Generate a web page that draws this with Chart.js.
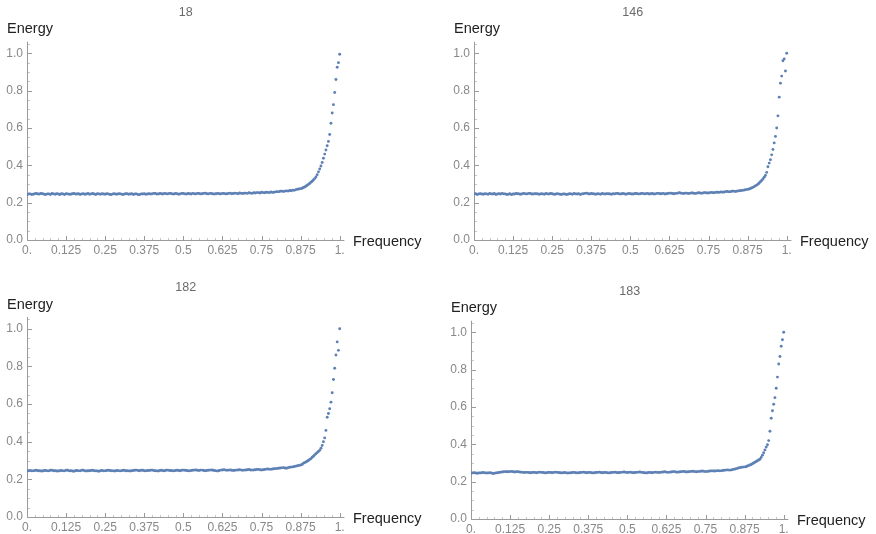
<!DOCTYPE html>
<html>
<head>
<meta charset="utf-8">
<script src="https://cdn.jsdelivr.net/npm/chart.js@4/dist/chart.umd.min.js"></script>
<style>
  body { margin: 0; width: 876px; height: 534px; overflow: hidden; background: #fff; position: relative; }
  .panel { position: absolute; }
  canvas { display: block; }
</style>
</head>
<body>
<div class="panel" id="w18"><canvas id="c18" width="445" height="275"></canvas></div>
<div class="panel" id="w146"><canvas id="c146" width="445" height="275"></canvas></div>
<div class="panel" id="w182"><canvas id="c182" width="445" height="275"></canvas></div>
<div class="panel" id="w183"><canvas id="c183" width="445" height="275"></canvas></div>
<script>
// frequency of each point (same for all four plots)
const freq = [
  0.000,0.005,0.010,0.015,0.020,0.025,0.030,0.035,0.040,0.045,0.050,0.055,0.060,0.065,0.070,0.075,0.080,0.085,0.090,0.095,
  0.100,0.105,0.110,0.115,0.120,0.125,0.130,0.135,0.140,0.145,0.150,0.155,0.160,0.165,0.170,0.175,0.180,0.185,0.190,0.195,
  0.200,0.205,0.210,0.215,0.220,0.225,0.230,0.235,0.240,0.245,0.250,0.255,0.260,0.265,0.270,0.275,0.280,0.285,0.290,0.295,
  0.300,0.305,0.310,0.315,0.320,0.325,0.330,0.335,0.340,0.345,0.350,0.355,0.360,0.365,0.370,0.375,0.380,0.385,0.390,0.395,
  0.400,0.405,0.410,0.415,0.420,0.425,0.430,0.435,0.440,0.445,0.450,0.455,0.460,0.465,0.470,0.475,0.480,0.485,0.490,0.495,
  0.500,0.505,0.510,0.515,0.520,0.525,0.530,0.535,0.540,0.545,0.550,0.555,0.560,0.565,0.570,0.575,0.580,0.585,0.590,0.595,
  0.600,0.605,0.610,0.615,0.620,0.625,0.630,0.635,0.640,0.645,0.650,0.655,0.660,0.665,0.670,0.675,0.680,0.685,0.690,0.695,
  0.700,0.705,0.710,0.715,0.720,0.725,0.730,0.735,0.740,0.745,0.750,0.755,0.760,0.765,0.770,0.775,0.780,0.785,0.790,0.795,
  0.800,0.805,0.810,0.815,0.820,0.825,0.830,0.835,0.840,0.845,0.850,0.855,0.860,0.865,0.870,0.875,0.880,
  0.884,0.888,0.892,0.896,0.900,0.904,0.908,0.912,0.916,0.920,
  0.924,0.928,0.932,0.936,0.940,0.944,0.948,0.952,0.956,0.960,
  0.964,0.968,0.972,0.976,0.980,0.984,0.988,0.992,0.996,1.000
];

const energy18 = [
  0.243,0.246,0.247,0.244,0.245,0.248,0.249,0.246,0.246,0.249,0.248,0.245,0.244,0.247,0.247,0.244,0.249,0.247,0.245,0.248,
  0.246,0.244,0.248,0.246,0.244,0.248,0.247,0.245,0.245,0.248,0.249,0.246,0.246,0.248,0.244,0.247,0.248,0.245,0.246,0.249,
  0.245,0.247,0.249,0.246,0.244,0.248,0.247,0.245,0.248,0.246,0.245,0.248,0.247,0.244,0.244,0.247,0.248,0.245,0.246,0.248,
  0.247,0.244,0.245,0.248,0.248,0.245,0.246,0.248,0.244,0.246,0.247,0.244,0.243,0.247,0.246,0.248,0.245,0.246,0.248,0.246,
  0.247,0.250,0.249,0.246,0.246,0.249,0.248,0.246,0.250,0.248,0.247,0.250,0.249,0.247,0.246,0.249,0.248,0.245,0.247,0.250,
  0.249,0.247,0.246,0.249,0.248,0.246,0.250,0.248,0.247,0.250,0.249,0.247,0.248,0.250,0.251,0.248,0.247,0.250,0.249,0.247,
  0.246,0.248,0.250,0.248,0.247,0.250,0.249,0.247,0.248,0.250,0.251,0.248,0.249,0.251,0.250,0.248,0.252,0.250,0.249,0.251,
  0.251,0.250,0.253,0.251,0.250,0.253,0.252,0.254,0.254,0.252,0.256,0.254,0.253,0.256,0.255,0.254,0.257,0.255,0.256,0.258,
  0.259,0.258,0.261,0.262,0.260,0.262,0.263,0.262,0.265,0.264,0.267,0.266,0.270,0.272,0.273,0.275,0.277,
  0.281,0.284,0.288,0.293,0.298,0.303,0.309,0.315,0.321,0.329,
  0.338,0.350,0.365,0.380,0.396,0.415,0.438,0.460,0.482,0.505,
  0.528,0.565,0.625,0.680,0.725,0.790,0.860,0.925,0.950,0.995
];

const energy146 = [
  0.246,0.248,0.244,0.246,0.248,0.246,0.245,0.248,0.247,0.245,0.249,0.247,0.246,0.249,0.244,0.246,0.248,0.246,0.250,0.247,
  0.247,0.244,0.245,0.248,0.243,0.246,0.246,0.249,0.248,0.246,0.245,0.248,0.250,0.247,0.247,0.250,0.249,0.246,0.246,0.248,
  0.248,0.246,0.245,0.248,0.247,0.245,0.249,0.247,0.246,0.249,0.248,0.245,0.245,0.248,0.247,0.245,0.244,0.247,0.246,0.244,
  0.245,0.248,0.247,0.245,0.249,0.247,0.246,0.248,0.244,0.247,0.248,0.250,0.251,0.248,0.246,0.249,0.248,0.246,0.245,0.248,
  0.247,0.245,0.249,0.247,0.246,0.248,0.248,0.246,0.245,0.248,0.247,0.250,0.249,0.247,0.246,0.249,0.248,0.245,0.247,0.249,
  0.248,0.246,0.246,0.249,0.249,0.247,0.247,0.249,0.250,0.247,0.248,0.250,0.246,0.248,0.249,0.246,0.247,0.250,0.250,0.248,
  0.248,0.250,0.246,0.248,0.249,0.251,0.251,0.249,0.248,0.250,0.250,0.253,0.252,0.250,0.249,0.251,0.251,0.249,0.250,0.252,
  0.252,0.249,0.250,0.252,0.253,0.251,0.251,0.253,0.254,0.252,0.252,0.254,0.255,0.253,0.254,0.256,0.256,0.255,0.258,0.256,
  0.257,0.259,0.260,0.258,0.259,0.261,0.262,0.260,0.261,0.263,0.264,0.265,0.266,0.268,0.270,0.271,0.273,
  0.276,0.279,0.282,0.286,0.290,0.294,0.299,0.305,0.312,0.319,
  0.327,0.336,0.346,0.362,0.392,0.412,0.430,0.456,0.485,0.520,
  0.555,0.600,0.665,0.765,0.840,0.878,0.960,0.970,0.905,1.000
];

const energy182 = [
  0.244,0.246,0.247,0.245,0.245,0.247,0.248,0.246,0.246,0.244,0.244,0.247,0.247,0.245,0.245,0.248,0.248,0.246,0.246,0.244,
  0.244,0.246,0.247,0.245,0.245,0.248,0.248,0.245,0.246,0.244,0.243,0.246,0.247,0.245,0.245,0.248,0.248,0.245,0.244,0.246,
  0.246,0.247,0.248,0.246,0.245,0.244,0.243,0.246,0.247,0.245,0.245,0.247,0.248,0.247,0.246,0.245,0.244,0.246,0.247,0.245,
  0.245,0.247,0.248,0.246,0.246,0.245,0.244,0.246,0.247,0.248,0.249,0.247,0.246,0.248,0.248,0.246,0.245,0.247,0.247,0.248,
  0.249,0.247,0.246,0.245,0.244,0.247,0.248,0.246,0.246,0.248,0.249,0.247,0.247,0.246,0.245,0.247,0.248,0.247,0.246,0.248,
  0.249,0.248,0.247,0.246,0.245,0.247,0.248,0.249,0.250,0.248,0.247,0.249,0.249,0.247,0.246,0.247,0.248,0.249,0.250,0.248,
  0.247,0.245,0.244,0.247,0.249,0.250,0.251,0.249,0.248,0.249,0.250,0.248,0.247,0.248,0.249,0.250,0.251,0.249,0.248,0.249,
  0.250,0.251,0.252,0.250,0.249,0.250,0.251,0.252,0.253,0.251,0.250,0.251,0.252,0.254,0.255,0.254,0.253,0.255,0.256,0.257,
  0.258,0.259,0.260,0.261,0.262,0.260,0.259,0.262,0.264,0.265,0.266,0.268,0.270,0.272,0.274,0.276,0.279,
  0.286,0.289,0.292,0.296,0.300,0.305,0.310,0.317,0.323,0.330,
  0.336,0.342,0.348,0.354,0.365,0.380,0.400,0.420,0.460,0.530,
  0.550,0.575,0.610,0.660,0.730,0.790,0.860,0.930,0.885,1.000
];

const energy183 = [
  0.246,0.247,0.248,0.246,0.245,0.246,0.247,0.248,0.249,0.247,0.246,0.247,0.248,0.246,0.244,0.245,0.247,0.248,0.249,0.251,
  0.252,0.253,0.254,0.253,0.253,0.254,0.255,0.253,0.252,0.253,0.254,0.252,0.251,0.250,0.249,0.250,0.250,0.249,0.248,0.249,
  0.250,0.249,0.248,0.250,0.251,0.250,0.249,0.248,0.247,0.249,0.250,0.249,0.248,0.250,0.251,0.250,0.249,0.248,0.247,0.248,
  0.249,0.247,0.246,0.247,0.248,0.249,0.250,0.248,0.247,0.248,0.249,0.250,0.251,0.249,0.248,0.249,0.250,0.248,0.247,0.248,
  0.249,0.250,0.251,0.249,0.248,0.249,0.250,0.248,0.247,0.248,0.249,0.250,0.251,0.249,0.248,0.249,0.250,0.251,0.252,0.250,
  0.249,0.250,0.251,0.249,0.248,0.249,0.250,0.251,0.252,0.250,0.249,0.248,0.247,0.248,0.250,0.249,0.248,0.250,0.251,0.250,
  0.249,0.250,0.251,0.252,0.253,0.251,0.250,0.251,0.252,0.253,0.254,0.252,0.251,0.252,0.253,0.254,0.255,0.253,0.252,0.253,
  0.254,0.255,0.256,0.254,0.253,0.254,0.255,0.256,0.257,0.255,0.254,0.255,0.256,0.257,0.258,0.257,0.257,0.258,0.259,0.258,
  0.258,0.260,0.261,0.262,0.263,0.262,0.262,0.264,0.266,0.268,0.270,0.273,0.275,0.277,0.278,0.279,0.280,
  0.284,0.286,0.289,0.292,0.296,0.300,0.304,0.308,0.312,0.316,
  0.320,0.330,0.342,0.355,0.370,0.385,0.398,0.420,0.470,0.540,
  0.580,0.615,0.650,0.700,0.760,0.830,0.870,0.925,0.960,1.000
];

// axis ticks
const energyTicks = [0, 0.2, 0.4, 0.6, 0.8, 1.0];
const energyTickLabels = ['0.0', '0.2', '0.4', '0.6', '0.8', '1.0'];
const energyMinor = [0.05,0.1,0.15,0.25,0.3,0.35,0.45,0.5,0.55,0.65,0.7,0.75,0.85,0.9,0.95,1.05];
const freqTicks = [0, 0.125, 0.25, 0.375, 0.5, 0.625, 0.75, 0.875, 1];
const freqTickLabels = ['0.', '0.125', '0.25', '0.375', '0.5', '0.625', '0.75', '0.875', '1.'];
const freqMinor = [0.025,0.05,0.075,0.1,0.15,0.175,0.2,0.225,0.275,0.3,0.325,0.35,
  0.4,0.425,0.45,0.475,0.525,0.55,0.575,0.6,0.65,0.675,0.7,0.725,0.775,0.8,0.825,0.85,
  0.9,0.925,0.95,0.975];

const FONT = '"Liberation Sans", Arial, sans-serif';

// mathematica style axes: lines on the left and bottom, ticks pointing inward
const mmaAxes = {
  id: 'mmaAxes',
  beforeDatasetsDraw(chart) {
    const { ctx, chartArea: a, scales: { x, y } } = chart;
    const x0 = Math.round(a.left) + 0.5;
    const y0 = Math.round(a.bottom) + 0.5;
    ctx.save();
    ctx.lineWidth = 1;
    // minor ticks
    ctx.strokeStyle = '#c8c8c8';
    ctx.beginPath();
    energyMinor.forEach(v => {
      const py = Math.round(y.getPixelForValue(v)) + 0.5;
      ctx.moveTo(x0, py); ctx.lineTo(x0 + 2.5, py);
    });
    freqMinor.forEach(v => {
      const px = Math.round(x.getPixelForValue(v)) + 0.5;
      ctx.moveTo(px, y0); ctx.lineTo(px, y0 - 2.5);
    });
    ctx.stroke();
    // axis lines + major ticks
    ctx.strokeStyle = '#9a9a9a';
    ctx.beginPath();
    ctx.moveTo(x0, a.top);
    ctx.lineTo(x0, y0);
    ctx.lineTo(a.right, y0);
    energyTicks.forEach(v => {
      const py = Math.round(y.getPixelForValue(v)) + 0.5;
      ctx.moveTo(x0, py); ctx.lineTo(x0 + 4.5, py);
    });
    freqTicks.forEach(v => {
      const px = Math.round(x.getPixelForValue(v)) + 0.5;
      ctx.moveTo(px, y0); ctx.lineTo(px, y0 - 4.5);
    });
    ctx.stroke();
    ctx.restore();
  },
  afterDraw(chart, args, opts) {
    const { ctx, chartArea: a, scales: { y } } = chart;
    const top = y.getPixelForValue(1);
    ctx.save();
    // plot title
    ctx.fillStyle = '#6a6a6a';
    ctx.font = '12.5px ' + FONT;
    ctx.textAlign = 'center';
    ctx.textBaseline = 'middle';
    ctx.fillText(opts.title, (a.left + a.right) / 2, top - 41);
    // axis labels
    ctx.fillStyle = '#222';
    ctx.font = '14.5px ' + FONT;
    ctx.textAlign = 'left';
    ctx.textBaseline = 'alphabetic';
    ctx.fillText('Energy', a.left - 20, top - 20);
    ctx.textBaseline = 'middle';
    ctx.fillText('Frequency', a.left + 326, a.bottom + 2);
    ctx.restore();
  }
};

function makePlot(id, title, values, originX, originY, unitY) {
  const wrap = document.getElementById('w' + id);
  wrap.style.left = (originX - 40) + 'px';
  wrap.style.top = (originY - 245) + 'px';

  const points = freq.map((f, i) => ({ x: f, y: values[i] }));

  new Chart(document.getElementById('c' + id), {
    type: 'scatter',
    data: {
      datasets: [{
        data: points,
        pointRadius: 1.45,
        pointBorderWidth: 0,
        backgroundColor: 'rgb(94,129,181)',
        borderColor: 'rgb(94,129,181)'
      }]
    },
    options: {
      responsive: false,
      animation: false,
      events: [],
      layout: { padding: { left: 0, right: 445 - 40 - 1.015 * 312.7, top: 245 - 1.062 * unitY, bottom: 5 } },
      plugins: {
        legend: { display: false },
        tooltip: { enabled: false },
        title: { display: false },
        mmaAxes: { title: title }
      },
      scales: {
        x: {
          type: 'linear',
          min: 0,
          max: 1.015,
          afterBuildTicks: s => { s.ticks = freqTicks.map(v => ({ value: v })); },
          afterFit: s => { s.height = 25; },
          grid: { display: false, drawTicks: false },
          border: { display: false },
          ticks: {
            autoSkip: false,
            maxRotation: 0,
            padding: 3,
            color: '#888',
            font: { size: 12, family: FONT },
            callback: (v, i) => freqTickLabels[i]
          }
        },
        y: {
          type: 'linear',
          min: 0,
          max: 1.062,
          afterBuildTicks: s => { s.ticks = energyTicks.map(v => ({ value: v })); },
          afterFit: s => { s.width = 40; },
          grid: { display: false, drawTicks: false },
          border: { display: false },
          ticks: {
            padding: 4,
            color: '#888',
            font: { size: 12, family: FONT },
            callback: (v, i) => energyTickLabels[i]
          }
        }
      }
    },
    plugins: [mmaAxes]
  });
}

makePlot('18', '18', energy18, 27, 240, 186.7);
makePlot('146', '146', energy146, 474, 240, 186.7);
makePlot('182', '182', energy182, 27, 517, 188.3);
makePlot('183', '183', energy183, 471, 519, 186.7);
</script>
</body>
</html>
